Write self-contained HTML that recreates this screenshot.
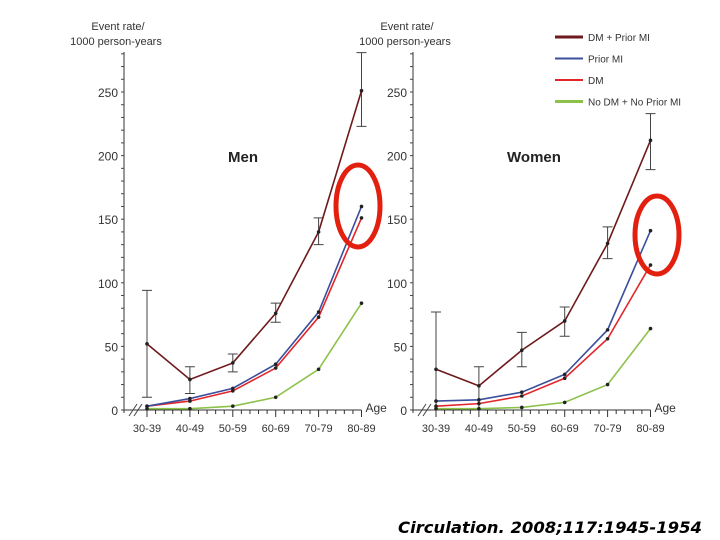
<!DOCTYPE html>
<html><head><meta charset="utf-8"><style>
body{margin:0;background:#fff;width:720px;height:540px;overflow:hidden;font-family:"Liberation Sans",sans-serif}
svg{position:absolute;left:0;top:0}
</style></head><body>
<svg id="c" width="720" height="540" xmlns="http://www.w3.org/2000/svg"></svg>
<script>
const categories=["30-39","40-49","50-59","60-69","70-79","80-89"];
const yTicks=[0,50,100,150,200,250];
const seriesNames=["DM + Prior MI","Prior MI","DM","No DM + No Prior MI"];
const seriesColors=["#6e1a1c","#3b4f9c","#e2262b","#8cc24a"];
const menDmMi=[52,24,37,76,140,251];
const menMi=[3,9,17,36,77,160];
const menDm=[3,7,15,33,73,151];
const menNone=[1,1,3,10,32,84];
const menDmMiLo=[10,13,30,69,130,223];
const menDmMiHi=[94,34,44,84,151,281];
const womenDmMi=[32,19,47,70,131,212];
const womenMi=[7,8,14,28,63,141];
const womenDm=[3,5,11,25,56,114];
const womenNone=[1,1,2,6,20,64];
const womenDmMiLo=[0,0,34,58,119,189];
const womenDmMiHi=[77,34,61,81,144,233];
const ns="http://www.w3.org/2000/svg";
const svg=document.getElementById('c');
function mk(t,a,p){const e=document.createElementNS(ns,t);for(const k in a)e.setAttribute(k,a[k]);(p||svg).appendChild(e);return e;}
function yS(v){return 410-v*1.272;}
function panel(axisX,x0,title,titleX,series,lo,hi,key){
  const g=mk('g',{});
  
  
  const xS=i=>x0+i*42.9;
  const ax=mk('line',{x1:axisX,y1:52,x2:axisX,y2:413,stroke:'#333','stroke-width':1},g);
  
  for(let v=0;v<=280;v+=10){mk('line',{x1:axisX-3,y1:yS(v),x2:axisX,y2:yS(v),stroke:'#444','stroke-width':1},g);}
  yTicks.forEach(v=>{const t=mk('text',{x:axisX-6,y:yS(v)+5,'text-anchor':'end','font-size':12,fill:'#333'},g);t.textContent=v;
    });
  const xa=mk('line',{x1:axisX,y1:410,x2:xS(5),y2:410,stroke:'#333','stroke-width':1},g);
  
  mk('path',{d:`M${axisX+5} 416 L${axisX+13} 404 M${axisX+10} 416 L${axisX+18} 404`,stroke:'#444',fill:'none'},g);
  for(let i=0;i<=25;i++){const x=x0+i*42.9/5;mk('line',{x1:x,y1:410,x2:x,y2:i%5?414:417,stroke:'#333'},g);}
  categories.forEach((c,i)=>{const t=mk('text',{x:xS(i),y:432,'text-anchor':'middle','font-size':11,fill:'#333'},g);t.textContent=c;
    });
  const ag=mk('text',{x:xS(5)+4,y:412,'font-size':12,fill:'#333'},g);ag.textContent='Age';
  
  const yt=mk('text',{x:axisX-4,y:30,'text-anchor':'middle','font-size':11,fill:'#333'},g);
  
  mk('tspan',{x:axisX-6,dy:0},yt).textContent='Event rate/';
  mk('tspan',{x:axisX-8,dy:15},yt).textContent='1000 person-years';
  const tt=mk('text',{x:titleX,y:162,'text-anchor':'middle','font-size':15,'font-weight':'bold',fill:'#222'},g);tt.textContent=title;
  
  lo.forEach((l,i)=>{const x=xS(i);
    const e=mk('path',{d:`M${x} ${yS(l)} V${yS(hi[i])} M${x-5} ${yS(l)} H${x+5} M${x-5} ${yS(hi[i])} H${x+5}`,stroke:'#444','stroke-width':1,fill:'none'},g);
    });
  for(let s=series.length-1;s>=0;s--){
    const d=series[s].map((v,i)=>(i?'L':'M')+xS(i)+' '+yS(v)).join(' ');
    const p=mk('path',{d,stroke:seriesColors[s],'stroke-width':1.6,fill:'none'},g);
    
    series[s].forEach((v,i)=>{const c=mk('circle',{cx:xS(i),cy:yS(v),r:1.8,fill:'#222'},g);
      });
  }
}
panel(124,147,'Men',243,[menDmMi,menMi,menDm,menNone],menDmMiLo,menDmMiHi,'men');
panel(413,436,'Women',534,[womenDmMi,womenMi,womenDm,womenNone],womenDmMiLo,womenDmMiHi,'women');
const lg=mk('g',{});


seriesNames.forEach((n,i)=>{const y=37+i*21.5;
  mk('line',{x1:555,y1:y,x2:583,y2:y,stroke:seriesColors[i],'stroke-width':(i==0||i==3)?3:2},lg);
  const t=mk('text',{x:588,y:y+4,'font-size':10,fill:'#333'},lg);t.textContent=n;
  });
const e1=mk('ellipse',{cx:358,cy:206,rx:22,ry:41,fill:'none',stroke:'#e3200f','stroke-width':5});

const e2=mk('ellipse',{cx:657,cy:235,rx:22,ry:39,fill:'none',stroke:'#e3200f','stroke-width':5});

const cit=mk('text',{x:702,y:533,'text-anchor':'end','font-size':16,'font-style':'italic','font-weight':'bold','font-family':'"DejaVu Sans",sans-serif',fill:'#000',textLength:304,lengthAdjust:'spacingAndGlyphs'});
cit.textContent='Circulation. 2008;117:1945-1954';

</script>
</body></html>
